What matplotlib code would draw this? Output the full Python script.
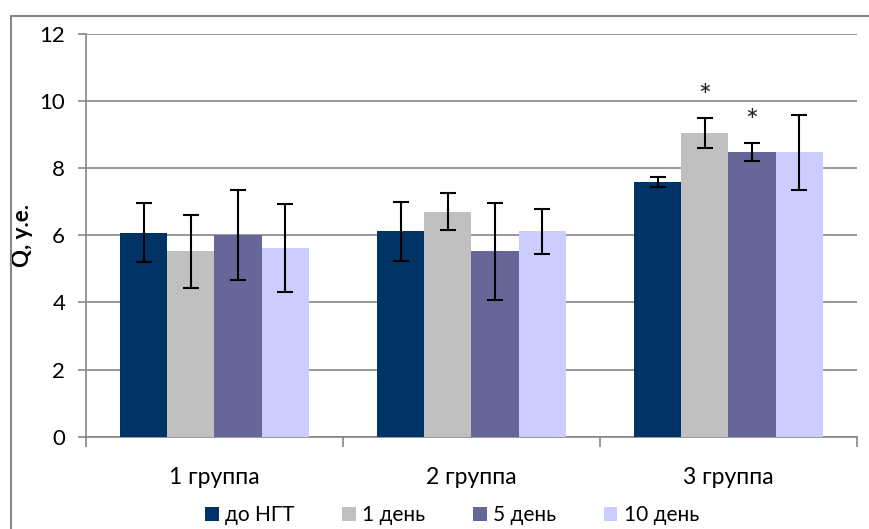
import matplotlib
matplotlib.use("Agg")
import matplotlib.pyplot as plt
import numpy as np
from matplotlib.lines import Line2D
from matplotlib.patches import Patch

plt.rcParams['font.family'] = ['Lato', 'DejaVu Sans']

categories = ["1 группа", "2 группа", "3 группа"]
series_names = ["до НГТ", "1 день", "5 день", "10 день"]
values = {
    "до НГТ":  [6.08, 6.12, 7.58],
    "1 день":  [5.52, 6.70, 9.05],
    "5 день":  [6.00, 5.52, 8.48],
    "10 день": [5.62, 6.12, 8.48],
}
errors = {
    "до НГТ":  [0.88, 0.87, 0.15],
    "1 день":  [1.08, 0.55, 0.45],
    "5 день":  [1.34, 1.45, 0.26],
    "10 день": [1.31, 0.67, 1.12],
}
colors = ["#003366", "#C0C0C0", "#666699", "#CCCCFF"]
# significance marks: (category index, series index, y position)
stars = [(2, 1, 10.12), (2, 2, 9.38)]
yticks = [0, 2, 4, 6, 8, 10, 12]

W, H = 870, 529
fig = plt.figure(figsize=(W / 100, H / 100), dpi=100)
ax = fig.add_axes([86 / W, 1 - 436.7 / H, (857 - 86) / W, (436.7 - 34) / H])

x = np.arange(len(categories))
bw = 0.183
offsets = (np.arange(len(series_names)) - 1.5) * bw
for i, name in enumerate(series_names):
    ax.bar(x + offsets[i], values[name], width=bw, color=colors[i], zorder=3,
           label=name, linewidth=0)
    ax.errorbar(x + offsets[i], values[name], yerr=errors[name], fmt='none',
                ecolor='black', elinewidth=1.5, capsize=6, capthick=1.5, zorder=4)

for ci, si, yv in stars:
    ax.text(x[ci] + offsets[si], yv, "*", ha='center', va='center', fontsize=22,
            color='#222222', zorder=5)

ax.set_xlim(-0.5, len(categories) - 0.5)
ax.set_ylim(0, 12)
ax.set_yticks(yticks)
ax.set_yticklabels([str(t) for t in yticks], fontsize=16)
ax.yaxis.grid(True, color='#868686', linewidth=1.2, zorder=0)
ax.set_axisbelow(True)

ax.set_xticks(x)
ax.set_xticklabels(categories, fontsize=16.5)
ax.set_xticks(np.arange(-0.5, len(categories)), minor=True)
ax.tick_params(axis='x', which='major', length=0, pad=22)
ax.tick_params(axis='x', which='minor', length=7, width=1.2, color='#868686', direction='out')
ax.tick_params(axis='y', length=6, width=1.2, color='#868686', pad=9)

for s in ['top', 'right']:
    ax.spines[s].set_visible(False)
for s in ['left', 'bottom']:
    ax.spines[s].set_color('#868686')
    ax.spines[s].set_linewidth(1.2)

ax.set_ylabel("Q, у.е.", fontsize=16, fontweight='bold')
ax.yaxis.set_label_coords(33 / W, 1 - 235 / H, transform=fig.transFigure)

handles = [Patch(facecolor=c, edgecolor='none') for c in colors]
fig.legend(handles, series_names, loc='center', bbox_to_anchor=(452 / W, 1 - 515 / H),
           ncol=4, frameon=False, fontsize=15, handlelength=0.65, handleheight=0.65,
           handletextpad=0.3, columnspacing=2.3)

# outer chart frame
fy = 1 - 16 / H
fx = 11 / W
fig.add_artist(Line2D([fx, 1.0], [fy, fy], transform=fig.transFigure, color='#898989', linewidth=1.5))
fig.add_artist(Line2D([fx, fx], [0, fy], transform=fig.transFigure, color='#898989', linewidth=1.5))

fig.savefig("out.png", dpi=100)
